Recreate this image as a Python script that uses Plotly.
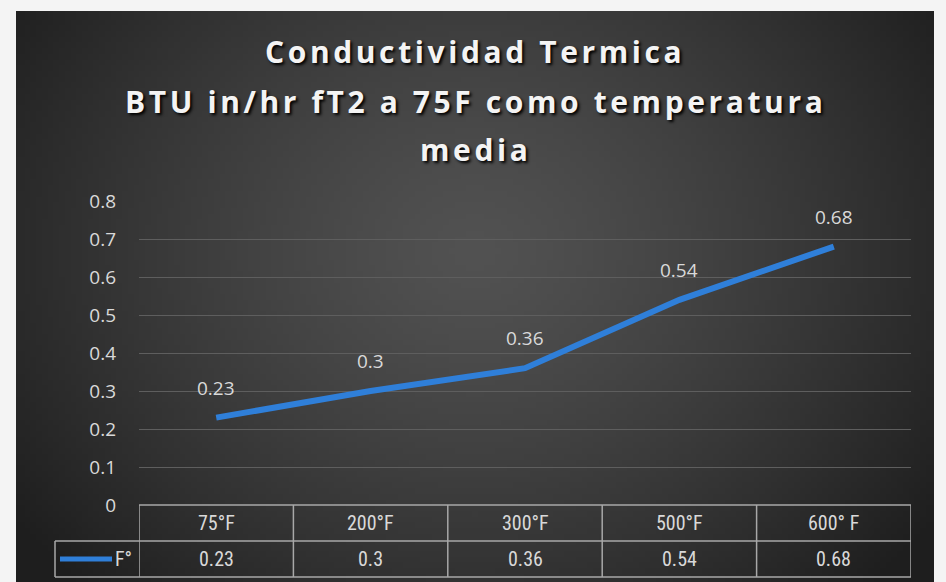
import zlib, struct, base64, math
import plotly.graph_objects as go

# ---- data ----
categories = ["75°F", "200°F", "300°F", "500°F", "600° F"]
values = [0.23, 0.3, 0.36, 0.54, 0.68]
series_name = "F°"
title_lines = ["Conductividad Termica", "BTU in/hr fT2 a 75F como temperatura", "media"]
y_ticks = [0, 0.1, 0.2, 0.3, 0.4, 0.5, 0.6, 0.7, 0.8]

W, H = 946, 582
L, R, T, B = 139, 35, 201, 77
PW, PH = W - L - R, H - T - B


def py(p):  # pixel y -> paper y
    return (H - B - p) / PH


def px(p):  # pixel x -> paper x
    return (p - L) / PW


# ---- radial gradient background image ----
def make_png(w, h):
    rows = []
    cx, cy = 0.5, 0.42
    c_in, c_out = 82, 30
    for j in range(h):
        row = bytearray([0])
        for i in range(w):
            dx = (i / (w - 1) - cx) / 0.62
            dy = (j / (h - 1) - cy) / 0.85
            t = min(1.0, math.sqrt(dx * dx + dy * dy))
            v = int(c_in + (c_out - c_in) * (t ** 1.3))
            row += bytes([v, v, v])
        rows.append(bytes(row))
    raw = b"".join(rows)

    def chunk(tag, data):
        c = struct.pack(">I", len(data)) + tag + data
        return c + struct.pack(">I", zlib.crc32(tag + data) & 0xffffffff)

    png = b"\x89PNG\r\n\x1a\n" + chunk(b"IHDR", struct.pack(">IIBBBBB", w, h, 8, 2, 0, 0, 0))
    png += chunk(b"IDAT", zlib.compress(raw, 9)) + chunk(b"IEND", b"")
    return "data:image/png;base64," + base64.b64encode(png).decode()


bg = make_png(160, 100)

fig = go.Figure()
fig.add_trace(go.Scatter(
    x=categories, y=values, mode="lines", name=series_name,
    line=dict(color="#2f7fd9", width=6), showlegend=False, hoverinfo="skip",
))

font_main = "Open Sans"
font_tbl = "Liberation Sans Narrow, Roboto Condensed, Roboto"
label_color = "#d9d9d9"
grid_col = "#5e5e5e"
tbl_col = "#a8a8a8"

annotations = []
# title lines
for txt, ypix in zip(title_lines, [51, 101, 150]):
    annotations.append(dict(
        text=f'<span style="letter-spacing:3.6px">{txt}</span>',
        xref="paper", yref="paper", x=px(475), y=py(ypix),
        xanchor="center", yanchor="middle", showarrow=False,
        font=dict(family=font_main, size=30, color="#f4f4f4", weight="bold",
                  shadow="2px 2px 3px #000000"),
    ))
# data labels
for c, v in zip(categories, values):
    annotations.append(dict(
        text=str(v), x=c, y=v, xref="x", yref="y", showarrow=False,
        xanchor="center", yanchor="middle",
        yshift=30, font=dict(family=font_main, size=19, color=label_color),
    ))
# table texts
for c, v in zip(categories, values):
    annotations.append(dict(text=c, x=c, y=py(523), xref="x", yref="paper", showarrow=False,
                            xanchor="center", yanchor="middle",
                            font=dict(family=font_tbl, size=20, color=label_color)))
    annotations.append(dict(text=str(v), x=c, y=py(559), xref="x", yref="paper", showarrow=False,
                            xanchor="center", yanchor="middle",
                            font=dict(family=font_tbl, size=20, color=label_color)))
annotations.append(dict(text=series_name, x=px(123), y=py(559), xref="paper", yref="paper", showarrow=False,
                        xanchor="center", yanchor="middle",
                        font=dict(family=font_tbl, size=20, color=label_color)))

shapes = []
ln = dict(color=tbl_col, width=1.5)
# horizontal table lines
shapes.append(dict(type="line", xref="paper", yref="paper", x0=0, x1=1, y0=py(505), y1=py(505), line=ln))
for yp in (541, 577):
    shapes.append(dict(type="line", xref="paper", yref="paper", x0=px(55), x1=1, y0=py(yp), y1=py(yp), line=ln))
# vertical table lines
for k in range(len(categories) + 1):
    xv = k - 0.5
    shapes.append(dict(type="line", xref="x", yref="paper", x0=xv, x1=xv, y0=py(505), y1=py(577), line=ln))
shapes.append(dict(type="line", xref="paper", yref="paper", x0=px(55), x1=px(55), y0=py(541), y1=py(577), line=ln))
# legend sample line
shapes.append(dict(type="line", xref="paper", yref="paper", x0=px(60), x1=px(112), y0=py(559), y1=py(559),
                   line=dict(color="#2f7fd9", width=5)))

fig.update_layout(
    width=W, height=H,
    margin=dict(l=L, r=R, t=T, b=B, pad=0),
    paper_bgcolor="#f4f4f4",
    plot_bgcolor="rgba(0,0,0,0)",
    images=[dict(source=bg, xref="paper", yref="paper", x=px(16), y=py(11),
                 sizex=(934 - 16) / PW, sizey=(582 - 11) / PH, sizing="stretch",
                 xanchor="left", yanchor="top", layer="below")],
    xaxis=dict(range=[-0.5, 4.5], showticklabels=False, showgrid=False, zeroline=False,
               showline=False, ticks=""),
    yaxis=dict(range=[0, 0.8], tickvals=y_ticks, ticktext=[f"{t:g}" for t in y_ticks],
               showgrid=True, gridcolor=grid_col, gridwidth=1, zeroline=False, showline=False,
               tickfont=dict(family=font_main, size=19, color=label_color), ticks="",
               ticklabelstandoff=22),
    annotations=annotations,
    shapes=shapes,
    showlegend=False,
)

fig.write_html("out.html", config={"displayModeBar": False},
               post_script="document.body.style.margin='0';document.body.style.overflow='hidden';")
